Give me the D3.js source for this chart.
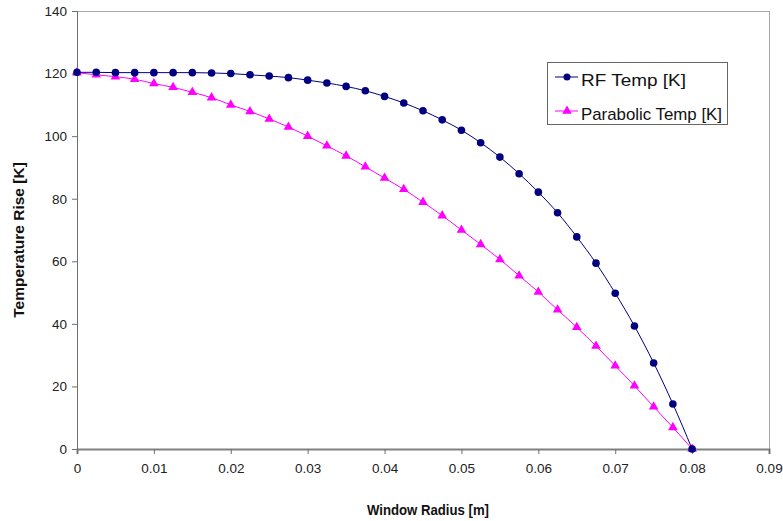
<!DOCTYPE html>
<html>
<head>
<meta charset="utf-8">
<script src="https://cdn.jsdelivr.net/npm/d3@7/dist/d3.min.js"></script>
<style>
  html, body { margin: 0; padding: 0; background: #fff; }
  svg { display: block; font-family: "Liberation Sans", Arial, sans-serif; }
</style>
</head>
<body>
<svg id="chart" width="783" height="521"></svg>
<script>
// ---- data ----
const radius = [0, 0.0025, 0.005, 0.0075, 0.01, 0.0125, 0.015, 0.0175, 0.02, 0.0225,
  0.025, 0.0275, 0.03, 0.0325, 0.035, 0.0375, 0.04, 0.0425, 0.045, 0.0475,
  0.05, 0.0525, 0.055, 0.0575, 0.06, 0.0625, 0.065, 0.0675, 0.07, 0.0725,
  0.075, 0.0775, 0.08];
const rfTemp = [120.4, 120.4, 120.3, 120.3, 120.3, 120.3, 120.3, 120.2, 120.0, 119.6,
  119.2, 118.7, 117.9, 117.0, 115.9, 114.5, 112.7, 110.6, 108.1, 105.2,
  101.9, 97.9, 93.3, 88.0, 82.1, 75.5, 67.8, 59.4, 49.8, 39.3,
  27.5, 14.4, 0];
const parabolicTemp = [120.3, 119.6, 119.0, 118.2, 116.8, 115.6, 114.0, 112.3, 110.0, 107.9,
  105.5, 102.9, 100.0, 96.9, 93.7, 90.2, 86.6, 83.0, 78.9, 74.6,
  70.0, 65.4, 60.6, 55.4, 50.2, 44.5, 38.9, 32.9, 26.6, 20.2,
  13.5, 6.9, 0];
const seriesNames = ["RF Temp [K]", "Parabolic Temp [K]"];
const xTicks = [0, 0.01, 0.02, 0.03, 0.04, 0.05, 0.06, 0.07, 0.08, 0.09];
const xTickLabels = ["0", "0.01", "0.02", "0.03", "0.04", "0.05", "0.06", "0.07", "0.08", "0.09"];
const yTicks = [0, 20, 40, 60, 80, 100, 120, 140];
const xTitle = "Window Radius [m]";
const yTitle = "Temperature Rise [K]";

// ---- layout ----
const svg = d3.select("#chart");
const L = 77, R = 769, T = 11, B = 449;
const x = d3.scaleLinear().domain([0, 0.09]).range([L, R]);
const y = d3.scaleLinear().domain([0, 140]).range([B, T]);

// plot area border (top & right)
svg.append("line").attr("x1", L).attr("x2", R).attr("y1", T + 0.5).attr("y2", T + 0.5)
  .attr("stroke", "#a8a8a8").attr("stroke-width", 1);
svg.append("line").attr("x1", R + 0.5).attr("x2", R + 0.5).attr("y1", T).attr("y2", B)
  .attr("stroke", "#a8a8a8").attr("stroke-width", 1);

// y axis
const yAxis = d3.axisLeft(y).tickValues(yTicks).tickSize(5).tickPadding(5).tickFormat(d3.format("d"));
const gy = svg.append("g").attr("transform", `translate(${L},0)`).call(yAxis);
gy.select(".domain").attr("stroke", "#6e6e6e");
gy.selectAll(".tick line").attr("stroke", "#6e6e6e");
gy.selectAll(".tick text").attr("fill", "#222").style("font-size", "13.5px")
  .style("font-family", "'Liberation Sans', Arial, sans-serif");

// x axis
const xAxis = d3.axisBottom(x).tickValues(xTicks).tickSize(5).tickPadding(9)
  .tickFormat((d, i) => xTickLabels[i]);
const gx = svg.append("g").attr("transform", `translate(0,${B})`).call(xAxis);
gx.select(".domain").attr("stroke", "#808080").attr("stroke-width", 2);
gx.selectAll(".tick line").attr("stroke", "#6e6e6e");
gx.selectAll(".tick text").attr("fill", "#222").style("font-size", "13.5px")
  .style("font-family", "'Liberation Sans', Arial, sans-serif");

// axis titles
svg.append("text").attr("x", 428).attr("y", 515).attr("text-anchor", "middle")
  .attr("textLength", 122).attr("lengthAdjust", "spacingAndGlyphs")
  .style("font-size", "15px").style("font-weight", "bold").attr("fill", "#111").text(xTitle);
svg.append("text").attr("transform", `translate(24,${(T + B) / 2 + 10}) rotate(-90)`)
  .attr("text-anchor", "middle").style("font-size", "15.5px").style("font-weight", "bold")
  .attr("fill", "#111").text(yTitle);

// series
const rfData = radius.map((r, i) => ({ r, t: rfTemp[i] }));
const paData = radius.map((r, i) => ({ r, t: parabolicTemp[i] }));
const line = d3.line().x(d => x(d.r)).y(d => y(d.t)).curve(d3.curveMonotoneX);

const rfColor = "#000080", paColor = "#ff00ff";

svg.append("path").datum(paData).attr("d", line).attr("fill", "none")
  .attr("stroke", paColor).attr("stroke-width", 1);
svg.append("path").datum(rfData).attr("d", line).attr("fill", "none")
  .attr("stroke", rfColor).attr("stroke-width", 1);

const tri = d3.symbol().type(d3.symbolTriangle).size(40);
svg.selectAll(".pa").data(paData).enter().append("path")
  .attr("transform", d => `translate(${x(d.r)},${y(d.t)})`)
  .attr("d", tri).attr("fill", paColor);
svg.selectAll(".rf").data(rfData).enter().append("circle")
  .attr("cx", d => x(d.r)).attr("cy", d => y(d.t)).attr("r", 3.8).attr("fill", rfColor);

// legend
const lg = svg.append("g");
lg.append("rect").attr("x", 547.5).attr("y", 62.5).attr("width", 180).attr("height", 62)
  .attr("fill", "#fff").attr("stroke", "#666").attr("stroke-width", 1);
const rows = [
  { name: seriesNames[0], color: rfColor, sym: "circle", yy: 77, len: 105 },
  { name: seriesNames[1], color: paColor, sym: "tri", yy: 111, len: 141 }
];
rows.forEach(rw => {
  lg.append("line").attr("x1", 555).attr("x2", 578).attr("y1", rw.yy).attr("y2", rw.yy)
    .attr("stroke", rw.color).attr("stroke-width", 1);
  if (rw.sym === "circle") {
    lg.append("circle").attr("cx", 567).attr("cy", rw.yy).attr("r", 3.5).attr("fill", rw.color);
  } else {
    lg.append("path").attr("transform", `translate(567,${rw.yy})`).attr("d", tri).attr("fill", rw.color);
  }
  lg.append("text").attr("x", 581).attr("y", rw.yy + 9).style("font-size", "17px")
    .attr("textLength", rw.len).attr("lengthAdjust", "spacingAndGlyphs")
    .attr("fill", "#111").text(rw.name);
});
</script>
</body>
</html>
